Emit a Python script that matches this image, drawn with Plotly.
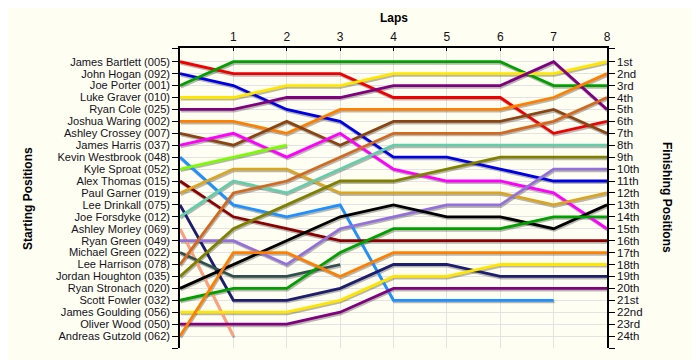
import plotly.graph_objects as go

laps = [0, 1, 2, 3, 4, 5, 6, 7, 8]

drivers = [
    "James Bartlett (005)", "John Hogan (092)", "Joe Porter (001)", "Luke Graver (010)",
    "Ryan Cole (025)", "Joshua Waring (002)", "Ashley Crossey (007)", "James Harris (037)",
    "Kevin Westbrook (048)", "Kyle Sproat (052)", "Alex Thomas (015)", "Paul Garner (019)",
    "Lee Drinkall (075)", "Joe Forsdyke (012)", "Ashley Morley (069)", "Ryan Green (049)",
    "Michael Green (022)", "Lee Harrison (078)", "Jordan Houghton (035)", "Ryan Stronach (020)",
    "Scott Fowler (032)", "James Goulding (056)", "Oliver Wood (050)", "Andreas Gutzold (062)",
]

colors = [
    "#F00000", "#0000E6", "#00A000", "#FFE600",
    "#800080", "#FF8000", "#8B4513", "#FF00FF",
    "#1E90FF", "#7CFC00", "#8B0000", "#DAA520",
    "#1E1E6E", "#66CDAA", "#FFA07A", "#9370DB",
    "#2F4F4F", "#D2691E", "#808000", "#000000",
    "#00A000", "#FFE600", "#800080", "#FF8000",
]

# positions at laps 0..8 (None = retired)
positions = [
    [1, 2, 2, 2, 4, 4, 4, 7, 6],
    [2, 3, 5, 6, 9, 9, 10, 11, 11],
    [3, 1, 1, 1, 1, 1, 1, 3, 3],
    [4, 4, 3, 3, 2, 2, 2, 2, 1],
    [5, 5, 4, 4, 3, 3, 3, 1, 5],
    [6, 6, 7, 5, 5, 5, 5, 4, 2],
    [7, 8, 6, 8, 6, 6, 6, 5, 7],
    [8, 7, 9, 7, 10, 11, 11, 12, 15],
    [9, 13, 14, 13, 21, 21, 21, 21, None],
    [10, 9, 8, None, None, None, None, None, None],
    [11, 14, 15, 16, 16, 16, 16, 16, 16],
    [12, 10, 10, 12, 12, 12, 12, 13, 12],
    [13, 21, 21, 20, 18, 18, 19, 19, 19],
    [14, 11, 12, 10, 8, 8, 8, 8, 8],
    [15, 24, None, None, None, None, None, None, None],
    [16, 16, 18, 15, 14, 13, 13, 10, 10],
    [17, 19, 19, 18, None, None, None, None, None],
    [18, 12, 11, 9, 7, 7, 7, 6, 4],
    [19, 15, 13, 11, 11, 10, 9, 9, 9],
    [20, 18, 16, 14, 13, 14, 14, 15, 13],
    [21, 20, 20, 17, 15, 15, 15, 14, 14],
    [22, 22, 22, 21, 19, 19, 18, 18, 18],
    [23, 23, 23, 22, 20, 20, 20, 20, 20],
    [24, 17, 17, 19, 17, 17, 17, 17, 17],
]

finish_labels = ["1st", "2nd", "3rd", "4th", "5th", "6th", "7th", "8th", "9th", "10th",
                 "11th", "12th", "13th", "14th", "15th", "16th", "17th", "18th", "19th",
                 "20th", "21st", "22nd", "23rd", "24th"]

BG = "#FFFEF3"
FONT = "Liberation Sans"
Y_TOP = -0.15
Y_BOTTOM = 25

fig = go.Figure()

# shadows
for pos in positions:
    xs = [l for l, p in zip(laps, pos) if p is not None]
    ys = [p for p in pos if p is not None]
    fig.add_trace(go.Scatter(
        x=[x + 0.015 for x in xs], y=[y + 0.14 for y in ys], mode="lines",
        line=dict(color="rgba(0,0,0,0.28)", width=2.8),
        hoverinfo="skip", showlegend=False))

for name, col, pos in zip(drivers, colors, positions):
    xs = [l for l, p in zip(laps, pos) if p is not None]
    ys = [p for p in pos if p is not None]
    fig.add_trace(go.Scatter(
        x=xs, y=ys, mode="lines", name=name,
        line=dict(color=col, width=2.8), showlegend=False))

# invisible trace for right axis
fig.add_trace(go.Scatter(x=[0], y=[1], yaxis="y2", mode="markers",
                         marker=dict(opacity=0), hoverinfo="skip", showlegend=False))

tickvals = [Y_TOP] + list(range(1, 25)) + [Y_BOTTOM]
left_text = [""] + drivers + [""]
right_text = [""] + finish_labels + [""]

fig.update_layout(
    width=700, height=360,
    margin=dict(l=172, r=101, t=40, b=20),
    paper_bgcolor=BG, plot_bgcolor=BG,
    font=dict(family=FONT, size=11, color="#111111"),
    showlegend=False,
    xaxis=dict(
        side="top", range=[0, 8], tickvals=[1, 2, 3, 4, 5, 6, 7, 8],
        showline=True, linecolor="black", linewidth=1.5,
        showgrid=True, gridcolor="#E3E3E3", gridwidth=1,
        ticks="inside", ticklen=3, tickcolor="black",
        tickfont=dict(size=12, family=FONT, color="#111111"),
        zeroline=False, fixedrange=True,
    ),
    yaxis=dict(
        range=[Y_BOTTOM, Y_TOP], tickvals=tickvals, ticktext=left_text,
        showline=True, linecolor="black", linewidth=1.5,
        showgrid=True, gridcolor="#E3E3E3", gridwidth=1,
        ticks="outside", ticklen=6, tickcolor="black",
        tickfont=dict(size=11.1, family=FONT, color="#111122"),
        zeroline=False, fixedrange=True,
    ),
    yaxis2=dict(
        overlaying="y", side="right", range=[Y_BOTTOM, Y_TOP], tickvals=tickvals, ticktext=right_text,
        showline=True, linecolor="black", linewidth=1.5, showgrid=False,
        ticks="outside", ticklen=6, tickcolor="black",
        tickfont=dict(size=11.5, family=FONT, color="#111122"),
        zeroline=False, fixedrange=True,
    ),
    annotations=[
        dict(text="<b>Laps</b>", xref="paper", yref="paper", x=0.5, y=1.1,
             showarrow=False, font=dict(size=12, family=FONT, color="black"),
             xanchor="center", yanchor="middle"),
        dict(text="<b>Starting Positions</b>", xref="paper", yref="paper", x=-0.356, y=0.5,
             showarrow=False, textangle=-90, font=dict(size=12, family=FONT, color="black"),
             xanchor="center", yanchor="middle"),
        dict(text="<b>Finishing Positions</b>", xref="paper", yref="paper", x=1.1405, y=0.5,
             showarrow=False, textangle=90, font=dict(size=12, family=FONT, color="black"),
             xanchor="center", yanchor="middle"),
    ],
)

fig.write_html("out.html")
